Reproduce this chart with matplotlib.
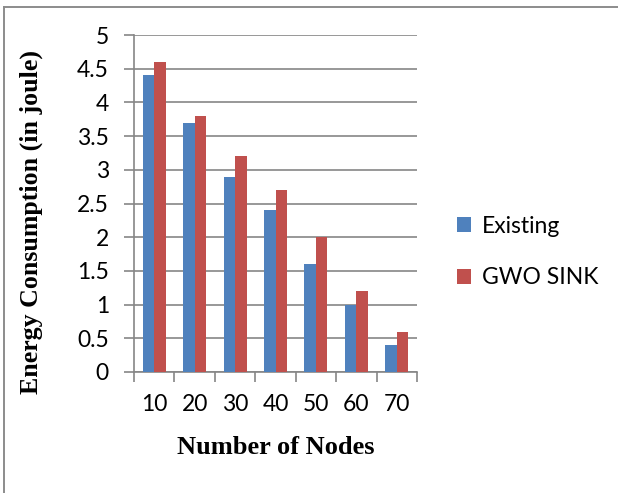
import matplotlib
matplotlib.use("Agg")
import matplotlib.pyplot as plt
import numpy as np
from matplotlib.lines import Line2D

categories = ["10", "20", "30", "40", "50", "60", "70"]
existing = [4.4, 3.7, 2.9, 2.4, 1.6, 1.0, 0.4]
gwo_sink = [4.6, 3.8, 3.2, 2.7, 2.0, 1.2, 0.6]
yticks = [0, 0.5, 1, 1.5, 2, 2.5, 3, 3.5, 4, 4.5, 5]
ytick_labels = ["0", "0.5", "1", "1.5", "2", "2.5", "3", "3.5", "4", "4.5", "5"]

W, H = 618, 493
fig = plt.figure(figsize=(W / 100, H / 100), dpi=100)
# outer border (only left and top edges visible in the crop)
border = "#8c8c8c"
fig.lines.append(Line2D([3.5 / W, 3.5 / W], [0, 1 - 6.5 / H], transform=fig.transFigure,
                        color=border, linewidth=1.4))
fig.lines.append(Line2D([3.5 / W, 1], [1 - 6.5 / H, 1 - 6.5 / H], transform=fig.transFigure,
                        color=border, linewidth=1.4))

left, right, top, bottom = 134, 417, 35, 372
ax = fig.add_axes([left / W, 1 - bottom / H, (right - left) / W, (bottom - top) / H])

x = np.arange(len(categories))
bw = 0.284
blue = "#4F81BD"
red = "#C0504D"
ax.bar(x - bw / 2, existing, width=bw, color=blue, label="Existing", zorder=3)
ax.bar(x + bw / 2, gwo_sink, width=bw, color=red, label="GWO SINK", zorder=3)

ax.set_xlim(-0.5, len(categories) - 0.5)
ax.set_ylim(0, 5)
ax.set_yticks(yticks)
ax.set_yticklabels(ytick_labels)
ax.yaxis.grid(True, color="#868686", linewidth=1.2, zorder=0)
ax.set_axisbelow(True)

tick_font = "Lato"
ax.set_xticks(np.arange(-0.5, len(categories), 1.0), minor=False)
ax.set_xticklabels([""] * (len(categories) + 1))
ax.set_xticks(x, minor=True)
ax.set_xticklabels(categories, minor=True)
ax.tick_params(axis="x", which="major", length=7, width=1.2, color="#868686", direction="out")
ax.tick_params(axis="x", which="minor", length=0, pad=16, labelsize=16.5)
ax.tick_params(axis="y", length=7, width=1.2, color="#868686", direction="out", labelsize=16.5, pad=11)
for lab in ax.get_xticklabels(minor=True) + ax.get_yticklabels():
    lab.set_fontfamily(tick_font)

for s in ["top", "right"]:
    ax.spines[s].set_visible(False)
ax.spines["left"].set_color("#868686")
ax.spines["bottom"].set_color("#868686")
ax.spines["left"].set_linewidth(1.2)
ax.spines["bottom"].set_linewidth(1.2)

fig.text(276 / W, 1 - 447 / H, "Number of Nodes", ha="center", va="center",
         fontfamily="Liberation Serif", fontweight="bold", fontsize=19)
fig.text(31 / W, 1 - 222 / H, "Energy Consumption (in joule)", ha="center", va="center",
         rotation=90, fontfamily="Liberation Serif", fontweight="bold", fontsize=18.6)

leg = fig.legend(loc="center left", bbox_to_anchor=(457 / W, 1 - 252 / H), frameon=False,
                 prop={"family": tick_font, "size": 16.5}, handlelength=0.62, handleheight=0.62,
                 labelspacing=1.35, handletextpad=0.45, borderaxespad=0, borderpad=0)

fig.savefig("out.png", dpi=100)
